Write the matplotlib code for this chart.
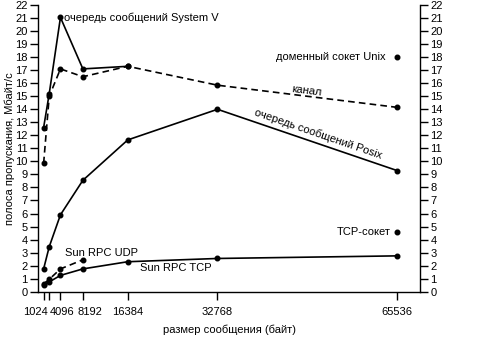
import numpy as np
import matplotlib
matplotlib.use('Agg')
import matplotlib.pyplot as plt
from matplotlib.transforms import ScaledTranslation

plt.rcParams['font.family'] = ['Liberation Sans', 'DejaVu Sans']

# data -------------------------------------------------------------------------
sizes = [1024, 2048, 4096, 8192, 16384, 32768, 65536]
tick_labels = ['1024', '', '4096', '8192', '16384', '32768', '65536']

sysv_x = sizes[:5]
sysv = [12.6, 15.2, 21.05, 17.1, 17.3]          # очередь сообщений System V
pipe = [9.85, 15.0, 17.1, 16.5, 17.3, 15.85, 14.15]  # канал
posix = [1.75, 3.45, 5.9, 8.55, 11.65, 14.0, 9.3]    # очередь сообщений Posix
udp_x = sizes[:4]
udp = [0.6, 0.95, 1.75, 2.45]                    # Sun RPC UDP
tcp = [0.55, 0.75, 1.25, 1.75, 2.3, 2.55, 2.75]  # Sun RPC TCP
unix_sock = 18.0                                  # доменный сокет Unix
tcp_sock = 4.6                                    # TCP-сокет

# figure -----------------------------------------------------------------------
fig = plt.figure(figsize=(4.83, 3.38), dpi=100)
ax = fig.add_axes([0.0787, 0.137, 0.791, 0.848])

mk = dict(color='black', marker='o', markersize=3.3, linewidth=1.2)
dash = (0, (4, 2.5))
ax.plot(sysv_x, sysv, linestyle='-', **mk)
ax.plot(sizes, pipe, linestyle=dash, **mk)
ax.plot(sizes, posix, linestyle='-', **mk)
ax.plot(udp_x, udp, linestyle=dash, **mk)
ax.plot(sizes, tcp, linestyle='-', **mk)
ax.plot([65536], [unix_sock], linestyle='none', **mk)
ax.plot([65536], [tcp_sock], linestyle='none', **mk)

fs = 8
ax.text(4700, 21.05, 'очередь сообщений System V', fontsize=fs, va='center')
ax.text(63500, unix_sock, 'доменный сокет Unix', fontsize=fs, va='center', ha='right')
ax.text(49100, 15.45, 'канал', fontsize=fs, va='center', ha='center', rotation=-7,
        rotation_mode='anchor')
ax.text(51100, 12.1, 'очередь сообщений Posix', fontsize=fs, va='center', ha='center',
        rotation=-19, rotation_mode='anchor')
ax.text(64400, tcp_sock, 'TCP-сокет', fontsize=fs, va='center', ha='right')
ax.text(4900, 2.95, 'Sun RPC UDP', fontsize=fs, va='center')
ax.text(18600, 1.8, 'Sun RPC TCP', fontsize=fs, va='center')

# axes -------------------------------------------------------------------------
ax.set_xlim(0, 69750)
ax.set_ylim(0, 22)
ax.set_yticks(np.arange(0, 23, 1))
ax.set_xticks(sizes)
ax.set_xticklabels(tick_labels)
ax.spines['top'].set_visible(False)
for s in ['left', 'right', 'bottom']:
    ax.spines[s].set_linewidth(1.0)
ax.tick_params(axis='both', direction='out', length=6, width=1.0, labelsize=fs,
               colors='black', pad=1.5)
ax.tick_params(axis='x', pad=5)
ax.tick_params(axis='y', right=True, labelright=True)

# nudge crowded x tick labels apart
shifts = {0: -6, 2: 1, 3: 5}
for i, lab in enumerate(ax.get_xticklabels()):
    if i in shifts:
        lab.set_transform(lab.get_transform() +
                          ScaledTranslation(shifts[i] / 72, 0, fig.dpi_scale_trans))

ax.set_xlabel('размер сообщения (байт)', fontsize=fs, va='center')
ax.xaxis.set_label_coords(0.5, -0.134)
ax.set_ylabel('полоса пропускания, Мбайт/с', fontsize=fs, va='center')
ax.yaxis.set_label_coords(-0.073, 0.5)

fig.savefig('out.png', dpi=100)
